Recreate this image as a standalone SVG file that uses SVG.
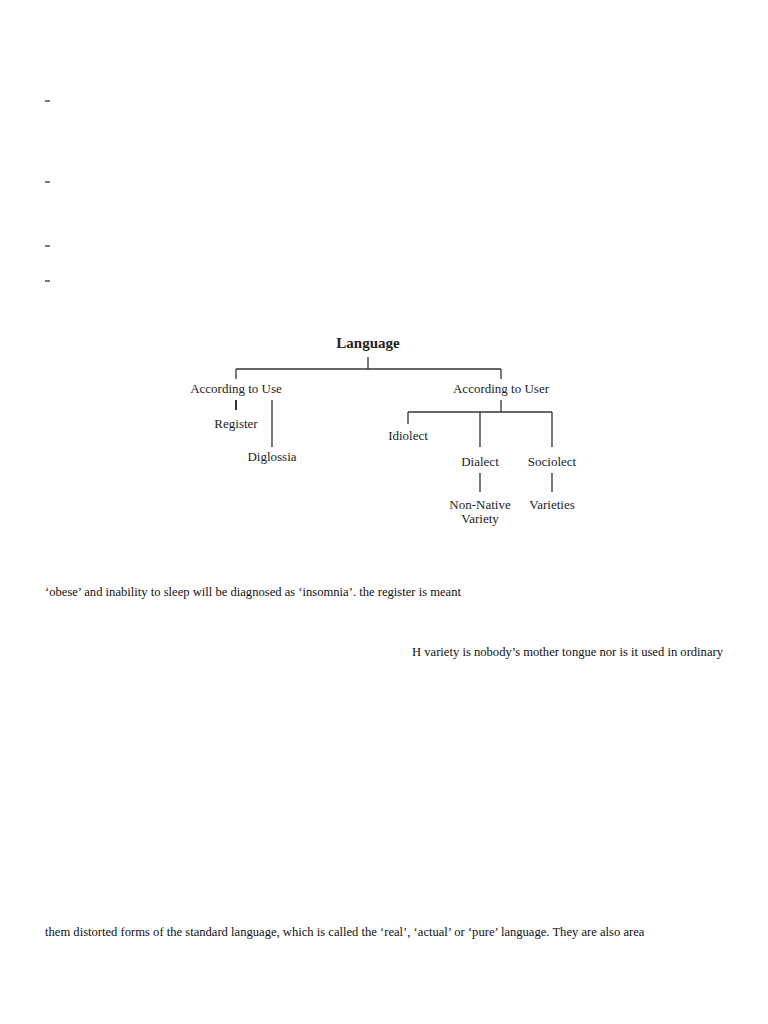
<svg xmlns="http://www.w3.org/2000/svg" width="768" height="1024" viewBox="0 0 768 1024">
<style>
.t{font-family:"Liberation Serif",serif;font-size:13px;fill:#222}
.b{font-family:"Liberation Serif",serif;font-size:12.6px;fill:#111}
.c{stroke:#333;stroke-width:1.3;fill:none}
</style>
<rect width="768" height="1024" fill="#fff"/>
<g id="dashes" class="c">
<line x1="45" y1="101" x2="50" y2="101"/><line x1="45" y1="182" x2="50" y2="182"/>
<line x1="45" y1="246" x2="50" y2="246"/><line x1="45" y1="281" x2="50" y2="281"/>
</g>
<g id="connectors" class="c">
<line x1="368" y1="357" x2="368" y2="369"/>
<line x1="236" y1="369" x2="501" y2="369"/>
<line x1="236" y1="369" x2="236" y2="379"/>
<line x1="501" y1="369" x2="501" y2="379"/>
<line x1="236" y1="400" x2="236" y2="410" stroke-width="2"/>
<line x1="272" y1="400" x2="272" y2="447"/>
<line x1="501" y1="400" x2="501" y2="412"/>
<line x1="408" y1="412" x2="552" y2="412"/>
<line x1="408" y1="412" x2="408" y2="424"/>
<line x1="480" y1="412" x2="480" y2="447"/>
<line x1="552" y1="412" x2="552" y2="447"/>
<line x1="480" y1="473" x2="480" y2="492"/>
<line x1="552" y1="473" x2="552" y2="492"/>
</g>
<g id="language"><text x="368" y="348" text-anchor="middle" class="t" style="font-weight:bold;font-size:15px">Language</text></g>
<g id="use"><text x="236" y="393" text-anchor="middle" class="t">According to Use</text></g>
<g id="user"><text x="501" y="393" text-anchor="middle" class="t">According to User</text></g>
<g id="register"><text x="236" y="428" text-anchor="middle" class="t">Register</text></g>
<g id="diglossia"><text x="272" y="461" text-anchor="middle" class="t">Diglossia</text></g>
<g id="idiolect"><text x="408" y="440" text-anchor="middle" class="t">Idiolect</text></g>
<g id="dialect"><text x="480" y="466" text-anchor="middle" class="t">Dialect</text></g>
<g id="sociolect"><text x="552" y="466" text-anchor="middle" class="t">Sociolect</text></g>
<g id="nonnative"><text x="480" y="509" text-anchor="middle" class="t">Non-Native</text><text x="480" y="523" text-anchor="middle" class="t">Variety</text></g>
<g id="varieties"><text x="552" y="509" text-anchor="middle" class="t">Varieties</text></g>
<text x="45" y="596" class="b">‘obese’ and inability to sleep will be diagnosed as ‘insomnia’. the register is meant</text>
<text x="723" y="656" text-anchor="end" class="b">H variety is nobody’s mother tongue nor is it used in ordinary</text>
<text x="45" y="936" class="b">them distorted forms of the standard language, which is called the ‘real’, ‘actual’ or ‘pure’ language. They are also area</text>
</svg>
